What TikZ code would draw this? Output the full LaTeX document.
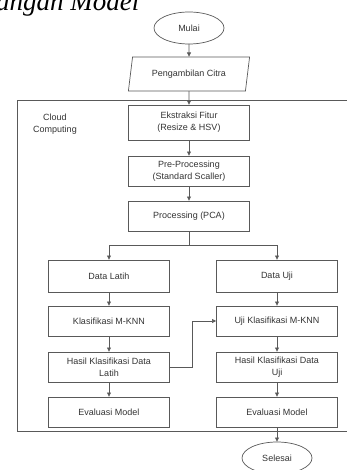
\documentclass[tikz,border=0pt]{standalone}
\usepackage{fontspec}
\setmainfont{Liberation Sans}
\newfontfamily\captionserif{Liberation Serif}
\usepackage{xcolor}
\definecolor{linegray}{gray}{0.35}
\definecolor{textgray}{gray}{0.2}
\usepackage{tikz}
\usetikzlibrary{shapes.geometric,arrows.meta,positioning,calc}

\begin{document}
\begin{tikzpicture}[
  x=1pt,y=-1pt,
  font=\fontsize{9}{12}\selectfont,
  every node/.style={text=textgray},
  terminal/.style={ellipse,draw=linegray,line width=0.7pt,minimum width=70pt,
                   minimum height=32pt,inner sep=0pt,outer sep=0pt},
  inputbox/.style={trapezium,trapezium left angle=72,trapezium right angle=108,
                   trapezium stretches=true,draw=linegray,line width=0.7pt,
                   minimum width=122pt,minimum height=34pt,inner sep=0pt,outer sep=0pt},
  process/.style={rectangle,draw=linegray,line width=0.7pt,minimum width=121pt,
                  minimum height=30pt,inner sep=1pt,outer sep=0pt,align=center},
  arrow/.style={-{Latex[length=4.5pt,width=4.5pt]},line width=0.7pt,draw=linegray},
]
  \useasboundingbox (0,0) rectangle (347,470);

  % judul (terpotong)
  \node[anchor=base west,inner sep=0pt,font=\captionserif\itshape\fontsize{27}{30}\selectfont,
        text=black] (judul) at (-4,11) {angan Model};

  % wadah cloud computing (sisi kanan terpotong)
  \node[anchor=north west,minimum width=400pt,minimum height=331pt,
        inner sep=0pt,outer sep=0pt] (cloud) at (17,100) {};
  \draw[line width=0.7pt,draw=linegray] (cloud.north east) -- (cloud.north west)
    -- (cloud.south west) -- (cloud.south east);
  \node[align=center] (cloudlabel) at (55,124) {Cloud\\Computing};

  % alur utama
  \node[terminal] (mulai) at (189,28) {Mulai};
  \node[inputbox,below=13pt of mulai] (citra) {Pengambilan Citra};
  \node[process,minimum height=35pt,below=14pt of citra] (fitur) {Ekstraksi Fitur\\(Resize \& HSV)};
  \node[process,below=16pt of fitur] (prepro) {Pre-Processing\\(Standard Scaller)};
  \node[process,below=15pt of prepro] (pca) {Processing (PCA)};

  % data latih
  \node[process,minimum height=32pt] (latih) at (109,276) {Data Latih};
  \node[process,below=14pt of latih] (klasifikasi) {Klasifikasi M-KNN};
  \node[process,below=16pt of klasifikasi] (hasillatih) {Hasil Klasifikasi Data\\Latih};
  \node[process,below=15pt of hasillatih] (evallatih) {Evaluasi Model};

  % data uji
  \node[process,minimum height=32pt] (uji) at (277,276) {Data Uji};
  \node[process,below=14pt of uji] (ujiklas) {Uji Klasifikasi M-KNN};
  \node[process,below=16pt of ujiklas] (hasiluji) {Hasil Klasifikasi Data\\Uji};
  \node[process,below=15pt of hasiluji] (evaluji) {Evaluasi Model};

  \node[terminal,below=15pt of evaluji] (selesai) {Selesai};

  \coordinate[below=14pt of pca.south] (cabang);

  \draw[arrow] (mulai) -- (citra);
  \draw[arrow] (citra) -- (fitur);
  \draw[arrow] (fitur) -- (prepro);
  \draw[arrow] (prepro) -- (pca);
  \draw[line width=0.7pt,draw=linegray] (pca) -- (cabang);
  \draw[arrow] (cabang) -| (latih);
  \draw[arrow] (cabang) -| (uji);
  \draw[arrow] (latih) -- (klasifikasi);
  \draw[arrow] (klasifikasi) -- (hasillatih);
  \draw[arrow] (hasillatih) -- (evallatih);
  \draw[arrow] (uji) -- (ujiklas);
  \draw[arrow] (ujiklas) -- (hasiluji);
  \draw[arrow] (hasiluji) -- (evaluji);
  \draw[arrow] (hasillatih.east) -- ++(23pt,0) |- (ujiklas.west);
  \draw[arrow] (evaluji) -- (selesai);
\end{tikzpicture}
\end{document}
